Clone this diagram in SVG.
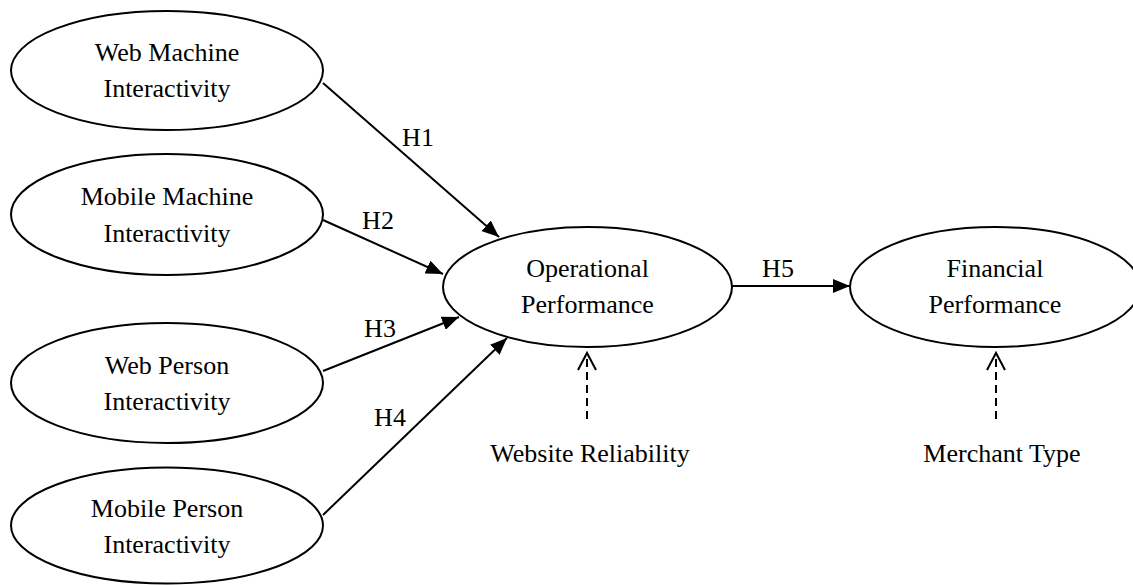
<svg xmlns="http://www.w3.org/2000/svg" width="1133" height="585" viewBox="0 0 1133 585">
<style>
.node ellipse{fill:#fff;stroke:#000;stroke-width:2}
text{font-family:"Liberation Serif","Times New Roman",serif;font-size:26px;fill:#000;text-anchor:middle}
.edge{stroke:#000;stroke-width:2;fill:none}
.dash{stroke:#000;stroke-width:2;fill:none;stroke-dasharray:8,5}
</style>
<defs>
<marker id="arr" markerUnits="userSpaceOnUse" markerWidth="18" markerHeight="14" refX="17" refY="7" orient="auto">
<path d="M0,0 L17,7 L0,14 z" fill="#000"/>
</marker>
<marker id="open" markerUnits="userSpaceOnUse" markerWidth="20" markerHeight="22" refX="17" refY="10" orient="auto" overflow="visible">
<path d="M0,1 L17,10 L0,19" fill="none" stroke="#000" stroke-width="2"/>
</marker>
</defs>
<g id="n-web-machine" class="node">
<ellipse cx="167" cy="70.5" rx="156" ry="59.5"/>
<text x="167" y="61">Web Machine</text>
<text x="167" y="97">Interactivity</text>
</g>
<g id="n-mobile-machine" class="node">
<ellipse cx="167" cy="214.5" rx="156" ry="60.5"/>
<text x="167" y="205">Mobile Machine</text>
<text x="167" y="241.5">Interactivity</text>
</g>
<g id="n-web-person" class="node">
<ellipse cx="167" cy="383" rx="156" ry="60"/>
<text x="167" y="373.5">Web Person</text>
<text x="167" y="410">Interactivity</text>
</g>
<g id="n-mobile-person" class="node">
<ellipse cx="167" cy="525.5" rx="156" ry="58"/>
<text x="167" y="516.5">Mobile Person</text>
<text x="167" y="553">Interactivity</text>
</g>
<g id="n-operational" class="node">
<ellipse cx="587.5" cy="287" rx="144.5" ry="60"/>
<text x="587.5" y="277">Operational</text>
<text x="587.5" y="313">Performance</text>
</g>
<g id="n-financial" class="node">
<ellipse cx="995" cy="287" rx="145" ry="60"/>
<text x="995" y="277">Financial</text>
<text x="995" y="313">Performance</text>
</g>
<g id="n-website-reliability">
<text x="590" y="462">Website Reliability</text>
</g>
<g id="n-merchant-type">
<text x="1002" y="462">Merchant Type</text>
</g>
<g id="connectors">
<line class="edge" x1="323" y1="83" x2="499" y2="237" marker-end="url(#arr)"/>
<line class="edge" x1="323" y1="220" x2="443" y2="274" marker-end="url(#arr)"/>
<line class="edge" x1="323" y1="371" x2="459" y2="317" marker-end="url(#arr)"/>
<line class="edge" x1="323" y1="515" x2="507" y2="338" marker-end="url(#arr)"/>
<line class="edge" x1="732" y1="286" x2="850" y2="286" marker-end="url(#arr)"/>
<line class="dash" x1="587" y1="419" x2="587" y2="353" marker-end="url(#open)"/>
<line class="dash" x1="996" y1="419" x2="996" y2="353" marker-end="url(#open)"/>
<text x="418" y="146">H1</text>
<text x="378" y="229">H2</text>
<text x="380" y="337">H3</text>
<text x="390" y="426">H4</text>
<text x="778" y="277">H5</text>
</g>
</svg>
